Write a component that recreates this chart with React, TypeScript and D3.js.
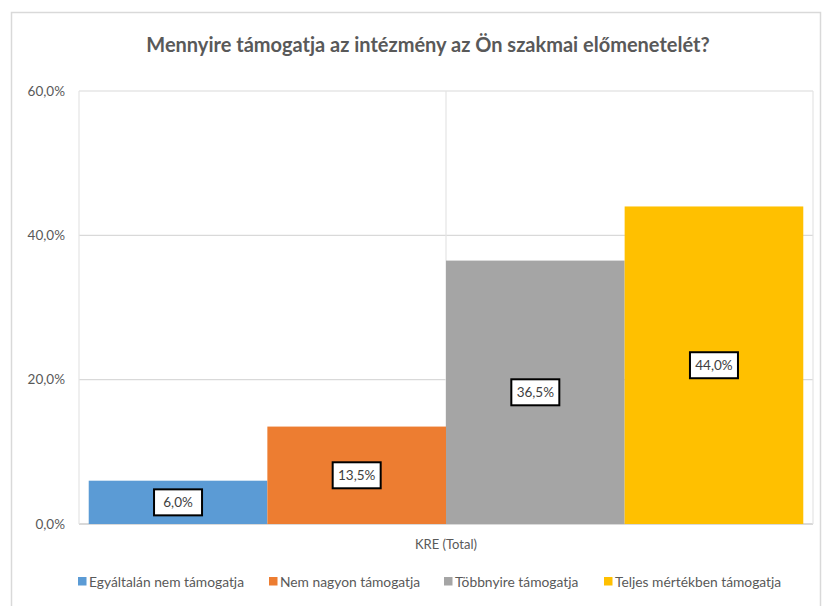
import { scaleLinear, scaleBand } from "d3";

const title = "Mennyire támogatja az intézmény az Ön szakmai előmenetelét?";
const category = "KRE (Total)";
const seriesNames = [
  "Egyáltalán nem támogatja",
  "Nem nagyon támogatja",
  "Többnyire támogatja",
  "Teljes mértékben támogatja",
];
const seriesValues = [6.0, 13.5, 36.5, 44.0];
const colors = ["#5B9BD5", "#ED7D31", "#A5A5A5", "#FFC000"];
const yTicks = [0, 20, 40, 60];

const W = 829;
const H = 606;
const plot = { left: 79, right: 813, top: 91, bottom: 524 };
const font = "Lato, 'Open Sans', sans-serif";
const fmt = (v: number) => v.toFixed(1).replace(".", ",") + "%";

// legend square x positions
const legendX = [78, 269, 444, 604];

export default function App() {
  const y = scaleLinear().domain([0, 60]).range([plot.bottom, plot.top]);
  const cat = scaleBand<string>()
    .domain([category])
    .range([plot.left, plot.right])
    .paddingInner(0)
    .paddingOuter(0.0136);
  const inner = scaleBand<string>()
    .domain(seriesNames)
    .range([cat(category)!, cat(category)! + cat.bandwidth()])
    .padding(0);
  const mid = (plot.left + plot.right) / 2;

  return (
    <svg
      width={W}
      height={H}
      style={{ position: "absolute", left: 0, top: 0, background: "#fff" }}
      fontFamily={font}
    >
      <rect x={11.5} y={12.5} width={809} height={640} fill="#fff" stroke="#D9D9D9" strokeWidth={1.5} />
      <text x={428} y={52} textAnchor="middle" fontSize={20} fontWeight="bold" fill="#595959">
        {title}
      </text>

      {yTicks.map((t) => (
        <g key={t}>
          <line x1={plot.left} x2={plot.right} y1={y(t)} y2={y(t)} stroke="#D9D9D9" strokeWidth={t === 0 ? 2 : 1.2} />
          <text x={65} y={y(t) + 4.5} textAnchor="end" fontSize={13.5} fill="#595959">
            {fmt(t)}
          </text>
        </g>
      ))}
      {[plot.left, mid, plot.right].map((x) => (
        <line key={x} x1={x} x2={x} y1={plot.top} y2={plot.bottom} stroke="#E4E4E4" strokeWidth={1.2} />
      ))}

      {seriesNames.map((s, i) => {
        const v = seriesValues[i];
        const x0 = inner(s)!;
        const bw = inner.bandwidth();
        const yc = (y(v) + y(0)) / 2;
        const cx = x0 + bw / 2;
        return (
          <g key={s}>
            <rect x={x0} y={y(v)} width={bw} height={y(0) - y(v)} fill={colors[i]} />
            <rect x={cx - 24} y={yc - 13} width={48} height={26} fill="#fff" stroke="#000" strokeWidth={2} />
            <text x={cx} y={yc + 5} textAnchor="middle" fontSize={13.5} fill="#404040">
              {fmt(v)}
            </text>
          </g>
        );
      })}

      <text x={mid} y={549} textAnchor="middle" fontSize={13} fill="#595959">
        {category}
      </text>

      {seriesNames.map((s, i) => (
        <g key={s}>
          <rect x={legendX[i]} y={577} width={8.5} height={8.5} fill={colors[i]} />
          <text x={legendX[i] + 11} y={586.5} fontSize={13.8} fill="#595959">
            {s}
          </text>
        </g>
      ))}
    </svg>
  );
}
